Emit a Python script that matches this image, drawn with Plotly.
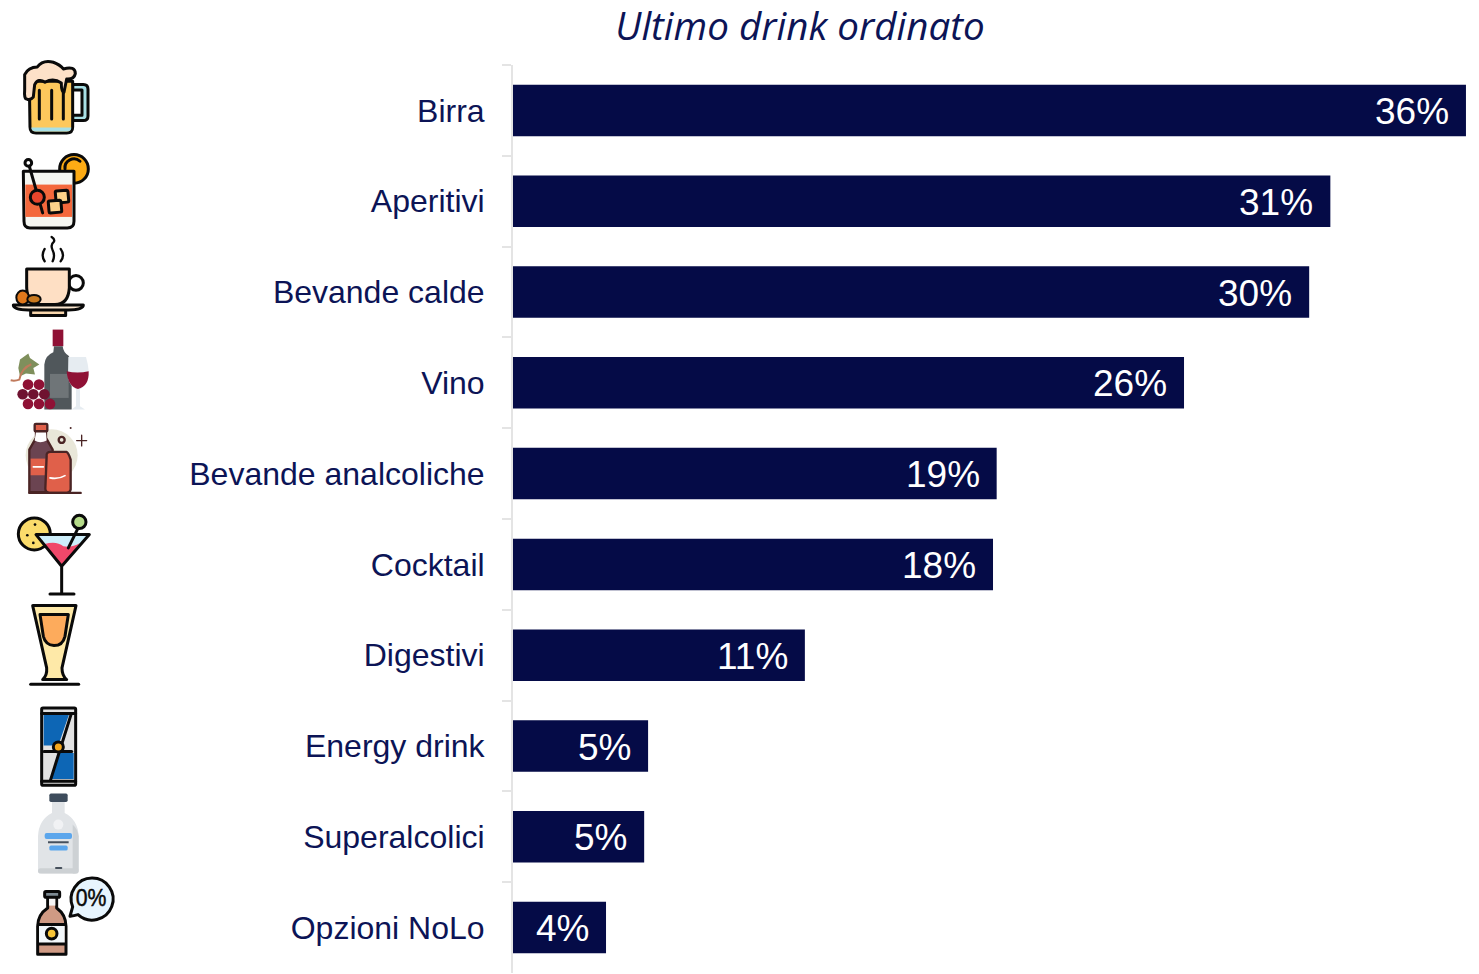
import base64
import plotly.graph_objects as go

categories = ["Birra", "Aperitivi", "Bevande calde", "Vino", "Bevande analcoliche",
              "Cocktail", "Digestivi", "Energy drink", "Superalcolici", "Opzioni NoLo"]
shares = [36.47, 31.28, 30.47, 25.68, 18.51, 18.37, 11.17, 5.17, 5.02, 3.56]
title_text = "Ultimo drink ordinato"

NAVY = "#050b47"
INK = "#0c1456"
K = 'stroke="#0a0a0a" stroke-width="9" stroke-linejoin="round" stroke-linecap="round"'

beer = f'''
<path d="M218 105h32q14 0 14 14v80q0 14-14 14h-32v-16h28v-76h-28z" fill="#a8e0e6" {K}/>
<path d="M88 95H218V232Q218 250 200 250H108Q90 250 90 232Z" fill="#fdc85c" {K}/>
<path d="M94 234H214Q214 246 200 246H108Q94 246 94 234Z" fill="#a8e0e6"/>
<path d="M118 122V208M155 122V208M190 122V208" fill="none" {K}/>
<path d="M80 148Q72 148 74 120V75Q85 52 112 52Q128 30 160 38Q180 45 190 58Q226 48 226 72Q222 90 200 88L192 128Q184 128 184 100Q160 84 135 98Q115 84 104 105L100 142Q90 154 80 148Z" fill="#fde1c8" {K}/>
'''

aperitif = f'''
<circle cx="222" cy="358" r="43" fill="#fdab14" {K}/>
<path d="M195 358A27 27 0 0 1 240 335" fill="none" {K}/>
<path d="M70 365H222V515Q222 535 202 535H90Q72 535 72 515Z" fill="#f5f6f1" {K}/>
<rect x="76" y="405" width="140" height="97" fill="#f4683c"/>
<circle cx="85" cy="340" r="10" fill="#fff" {K}/>
<path d="M88 350L128 490" fill="none" {K}/>
<circle cx="112" cy="443" r="21" fill="#e8452c" {K}/>
<rect x="167" y="423" width="38" height="36" rx="4" fill="#fdd28a" {K} transform="rotate(-5 186 441)"/>
<rect x="146" y="453" width="38" height="36" rx="4" fill="#fdd28a" {K} transform="rotate(-5 165 471)"/>
'''

coffee = f'''
<path d="M134 95Q122 78 134 58M158 95Q166 78 158 62Q150 45 162 36Q165 28 155 22M182 95Q196 78 182 58" fill="none" stroke="#0a0a0a" stroke-width="7" stroke-linecap="round"/>
<circle cx="228" cy="160" r="22" fill="none" {K}/>
<path d="M80 118H208V175Q205 225 165 225H122Q82 222 80 175Z" fill="#fedfc4" {K}/>
<path d="M92 240H197V258H92Z" fill="#f8d6ad" {K}/>
<path d="M40 226H250Q250 240 205 241H85Q40 240 40 226Z" fill="#fbe6cf" {K}/>
<ellipse cx="68" cy="204" rx="19" ry="21" fill="#e0781c" stroke="#0a0a0a" stroke-width="6"/>
<ellipse cx="102" cy="209" rx="20" ry="13" fill="#c9791e" stroke="#0a0a0a" stroke-width="6"/>
'''

wine = '''
<rect x="158" y="300" width="32" height="50" fill="#8f1135"/>
<path d="M162 350H188Q190 368 205 378Q215 390 215 410V540H133V405Q135 378 160 368Z" fill="#50575b"/>
<rect x="150" y="433" width="56" height="72" fill="#6f7578"/>
<path d="M205 382H258Q272 430 262 450Q250 478 240 478V530L255 540H215L228 530V478Q210 470 204 445Z" fill="#e6ecf1"/>
<path d="M200 425Q232 432 266 425Q268 470 234 478Q204 472 200 425Z" fill="#8f1135"/>
<path d="M60 390L85 372L90 385L118 405L100 415L105 435L78 432L60 440L55 415Z" fill="#7f8f5c"/>
<path d="M94 404Q65 415 58 450Q45 455 32 452" fill="none" stroke="#c07a5c" stroke-width="6"/>
<g fill="#8f1135"><circle cx="84" cy="465" r="16"/><circle cx="117" cy="465" r="16"/><circle cx="84" cy="523" r="16"/><circle cx="117" cy="523" r="16"/><circle cx="150" cy="523" r="16"/></g>
<g fill="#6f1230"><circle cx="68" cy="494" r="16"/><circle cx="100" cy="494" r="16"/><circle cx="133" cy="494" r="16"/></g>
'''

soda = '''
<circle cx="155" cy="122" r="78" fill="#e9e7d9"/>
<g stroke="#4a2424" stroke-width="7" stroke-linejoin="round" stroke-linecap="round">
<path d="M108 48H138V70L158 105V233H88V105L108 70Z" fill="#6b4451"/>
<path d="M108 52H138L140 78Q120 88 104 78Z" fill="#fff" stroke="none"/>
<rect x="104" y="28" width="38" height="22" rx="4" fill="#e0604a"/>
<rect x="92" y="132" width="45" height="50" fill="#e0604a" stroke="none"/>
<path d="M140 125Q138 112 152 112H200Q206 115 212 135V225Q210 235 200 235H148Q136 233 136 222Z" fill="#e0604a"/>
<path d="M88 235H242" fill="none"/>
<circle cx="185" cy="76" r="9" fill="none"/>
<path d="M245 62V94M230 78H260" fill="none" stroke-width="4"/>
<path d="M150 190Q175 195 195 183M100 157H130" fill="none" stroke="#fff" stroke-width="5"/>
</g>
<circle cx="212" cy="40" r="3" fill="#4a2424"/>
'''

cocktail = f'''
<circle cx="103" cy="358" r="48" fill="#fbdc6b" {K}/>
<circle cx="82" cy="362" r="4" fill="#0a0a0a"/><circle cx="105" cy="330" r="4" fill="#0a0a0a"/><circle cx="100" cy="385" r="4" fill="#0a0a0a"/>
<path d="M108 360H268L185 455Z" fill="#cdeefa"/>
<path d="M134 388Q170 378 190 395Q215 400 240 385L185 455Z" fill="#f0486a"/>
<path d="M108 360H268L185 455ZM185 455V538M150 538H222" fill="none" {K}/>
<path d="M232 345L205 400" fill="none" {K}/>
<circle cx="238" cy="322" r="20" fill="#b6dc8a" {K}/>
'''

digestif = f'''
<path d="M98 18H228L186 205Q186 228 200 240H128Q142 228 140 205Z" fill="#fee9a8" {K}/>
<path d="M120 45H205L195 110Q188 138 162 138Q136 136 130 110Z" fill="#fdab5c" {K}/>
<path d="M92 254H236" fill="none" {K}/>
'''

energy = f'''
<rect x="125" y="325" width="102" height="232" rx="4" fill="#e2e2e2" {K}/>
<path d="M131 345H207L175 438H131Z" fill="#0d66b5"/>
<path d="M221 538H150L178 460H221Z" fill="#0d66b5"/>
<path d="M125 342H227M125 545H227M214 342L152 540" fill="none" {K}/>
<path d="M132 456H215" fill="none" {K}/>
<circle cx="175" cy="442" r="15" fill="#f5a81e" {K}/>
'''

vodka = '''
<path d="M156 35H194V70Q234 90 236 140V240Q236 252 224 252H126Q114 252 114 240V140Q116 90 156 70Z" fill="#e1e4e7"/>
<path d="M218 105Q234 120 236 140V240Q236 252 224 252H218Z" fill="#cdd1d4"/>
<rect x="114" y="236" width="122" height="16" rx="8" fill="#cdd1d4"/>
<rect x="148" y="12" width="55" height="25" rx="5" fill="#3e4c5c"/>
<circle cx="175" cy="105" r="15" fill="#f1f2f4"/>
<rect x="134" y="130" width="82" height="18" rx="6" fill="#5ba6ec"/>
<rect x="144" y="155" width="62" height="6" fill="#46505c"/>
<rect x="148" y="168" width="55" height="15" rx="5" fill="#5ba6ec"/>
<rect x="165" y="232" width="22" height="6" rx="3" fill="#46505c"/>
'''

nolo = f'''
<path d="M143 320H170V355Q198 375 198 410V494H113V410Q113 375 143 355Z" fill="#cf9a84" {K}/>
<rect x="147" y="326" width="19" height="22" fill="#f4f4f4"/>
<rect x="134" y="306" width="45" height="17" rx="4" fill="#7d8a92" {K}/>
<rect x="117" y="405" width="77" height="58" fill="#f3f8fb"/>
<path d="M115 405H195M115 463H195" fill="none" {K}/>
<circle cx="155" cy="432" r="16" fill="#f8c537" {K}/>
<path d="M210 380L218 352A63 63 0 1 1 234 375Q222 378 210 380Z" fill="#e7f5fe" {K}/>
<text x="273" y="348" font-family="Liberation Sans" font-size="74" text-anchor="middle" fill="#0a0a0a" stroke="#0a0a0a" stroke-width="1.5" textLength="92" lengthAdjust="spacingAndGlyphs">0%</text>
'''

groups = [(50, beer + aperitif), (230, coffee + wine), (415, soda + cocktail),
          (600, digestif + energy), (790, nolo + vodka)]
body = "".join(f'<g transform="translate(0,{dy}) scale(0.3333)">{art}</g>' for dy, art in groups)
icons_svg = f'<svg xmlns="http://www.w3.org/2000/svg" width="120" height="974" viewBox="0 0 120 974">{body}</svg>'
icons_uri = "data:image/svg+xml;base64," + base64.b64encode(icons_svg.encode()).decode()

WIDTH, HEIGHT = 1479, 974
LEFT, RIGHT, TOP, BOTTOM = 513, 0, 65.4, 0.6
plot_w = WIDTH - LEFT - RIGHT
plot_h = HEIGHT - TOP - BOTTOM

fig = go.Figure(go.Bar(
    x=shares,
    y=categories,
    orientation="h",
    width=0.567,
    marker=dict(color=NAVY, line=dict(width=0)),
    hoverinfo="skip",
))

# Value labels sit a fixed distance inside the end of each bar
for cat, val in zip(categories, shares):
    fig.add_annotation(
        x=val, y=cat, text=f"{val:.0f}%", showarrow=False,
        xanchor="right", xshift=-15, yshift=-1,
        font=dict(family="Liberation Sans", size=37, color="#ffffff"),
    )

fig.add_layout_image(
    source=icons_uri, xref="paper", yref="paper",
    x=-LEFT / plot_w, y=1 + TOP / plot_h,
    sizex=120 / plot_w, sizey=HEIGHT / plot_h,
    xanchor="left", yanchor="top", sizing="stretch", layer="above",
)

fig.update_layout(
    width=WIDTH, height=HEIGHT,
    margin=dict(l=LEFT, r=RIGHT, t=TOP, b=BOTTOM, pad=0),
    paper_bgcolor="#ffffff", plot_bgcolor="#ffffff",
    showlegend=False,
    title=dict(
        text=title_text, x=800 / WIDTH, xanchor="center", y=1 - 26 / HEIGHT, yanchor="middle",
        font=dict(family="Open Sans", size=38.6, color=INK, style="italic"),
    ),
    xaxis=dict(range=[0, plot_w / 26.13], visible=False, fixedrange=True),
    yaxis=dict(
        autorange=False, range=[9.5, -0.5], type="category",
        categoryorder="array", categoryarray=categories,
        tickson="boundaries", ticks="outside", ticklen=9, tickwidth=2, tickcolor="#e4e4e4",
        showline=True, linecolor="#e4e4e4", linewidth=2, showgrid=False, zeroline=False,
        ticklabelstandoff=20,
        tickfont=dict(family="Liberation Sans", size=32, color=INK),
        fixedrange=True,
    ),
)

fig.write_html("out.html", config={"displayModeBar": False})
